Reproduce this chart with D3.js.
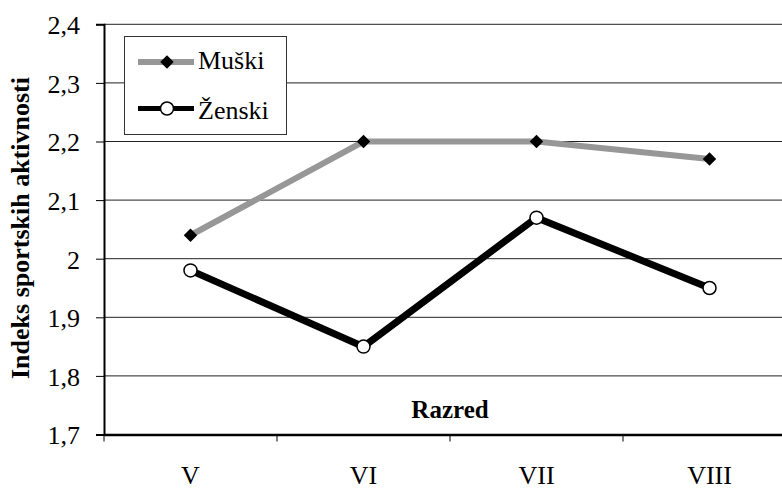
<!DOCTYPE html>
<html>
<head>
<meta charset="utf-8">
<script src="https://cdn.jsdelivr.net/npm/d3@7"></script>
<style>
  body { margin: 0; background: #fff; overflow: hidden; }
  svg { display: block; font-family: "Liberation Serif", "Times New Roman", serif; }
</style>
</head>
<body>
<svg id="chart" width="782" height="489"></svg>
<script>
// data
const razredi = ['V', 'VI', 'VII', 'VIII'];
const muski = [2.04, 2.2, 2.2, 2.17];
const zenski = [1.98, 1.85, 2.07, 1.95];
const yTicks = [1.7, 1.8, 1.9, 2.0, 2.1, 2.2, 2.3, 2.4];

// sizes (plot runs past the right edge, like the cropped original)
const pLeft = 104, pRight = 796, pTop = 24.3, pBottom = 434.5;
const serif = '"Liberation Serif", "Times New Roman", serif';

const svg = d3.select('#chart');

const x = d3.scaleBand().domain(razredi).range([pLeft, pRight]);
const y = d3.scaleLinear().domain([1.7, 2.4]).range([pBottom, pTop]);
const fmt = (d) => (d === 2 ? '2' : d3.format('.1f')(d).replace('.', ','));

// gridlines
svg.append('g')
  .selectAll('line')
  .data(yTicks.slice(1))
  .join('line')
  .attr('x1', pLeft).attr('x2', pRight)
  .attr('y1', (d) => y(d)).attr('y2', (d) => y(d))
  .attr('stroke', '#222').attr('stroke-width', 1);

// y axis
const yAxis = svg.append('g')
  .attr('transform', `translate(${pLeft},0)`)
  .call(d3.axisLeft(y).tickValues(yTicks).tickFormat(fmt).tickSize(8).tickPadding(16))
  .attr('font-family', serif).attr('font-size', 26);
yAxis.select('.domain').attr('stroke', '#000').attr('stroke-width', 2);
yAxis.selectAll('.tick line').attr('stroke', '#000');
yAxis.selectAll('text').attr('fill', '#000').attr('dy', '0.36em');

// x axis
const xAxis = svg.append('g')
  .attr('transform', `translate(0,${pBottom})`)
  .call(d3.axisBottom(x).tickSize(0).tickPadding(4))
  .attr('font-family', serif).attr('font-size', 26);
xAxis.select('.domain').attr('stroke', '#000').attr('stroke-width', 2.5);
xAxis.selectAll('text').attr('fill', '#000').attr('dy', null).attr('y', 49);
// ticks between categories
svg.append('g')
  .selectAll('line')
  .data(razredi)
  .join('line')
  .attr('x1', (d) => x(d)).attr('x2', (d) => x(d))
  .attr('y1', pBottom).attr('y2', pBottom + 7)
  .attr('stroke', '#000');

// axis titles
svg.append('text')
  .attr('transform', 'translate(29,228) rotate(-90)')
  .attr('text-anchor', 'middle')
  .attr('font-size', 26).attr('font-weight', 'bold')
  .text('Indeks sportskih aktivnosti');

svg.append('text')
  .attr('x', 450).attr('y', 418)
  .attr('text-anchor', 'middle')
  .attr('font-size', 25).attr('font-weight', 'bold')
  .text('Razred');

// lines
const cx = (d, i) => x(razredi[i]) + x.bandwidth() / 2;
const line = d3.line().x(cx).y((d) => y(d));

svg.append('path').datum(muski)
  .attr('d', line).attr('fill', 'none')
  .attr('stroke', '#979797').attr('stroke-width', 6);

svg.append('path').datum(zenski)
  .attr('d', line).attr('fill', 'none')
  .attr('stroke', '#000').attr('stroke-width', 7);

const diamond = d3.symbol().type(d3.symbolDiamond2).size(115);

svg.append('g')
  .selectAll('path')
  .data(muski)
  .join('path')
  .attr('d', diamond)
  .attr('transform', (d, i) => `translate(${cx(d, i)},${y(d)})`)
  .attr('fill', '#000');

svg.append('g')
  .selectAll('circle')
  .data(zenski)
  .join('circle')
  .attr('cx', cx).attr('cy', (d) => y(d))
  .attr('r', 6.5)
  .attr('fill', '#fff').attr('stroke', '#000').attr('stroke-width', 1.5);

// legend
const legend = svg.append('g');
legend.append('rect')
  .attr('x', 124.5).attr('y', 36.5).attr('width', 162).attr('height', 98)
  .attr('fill', '#fff').attr('stroke', '#333').attr('stroke-width', 1);

const items = [
  { name: 'Muški', color: '#979797', w: 6, ly: 62, ty: 69 },
  { name: 'Ženski', color: '#000', w: 5, ly: 108.5, ty: 119 },
];
items.forEach((it, i) => {
  legend.append('line')
    .attr('x1', 138).attr('x2', 194).attr('y1', it.ly).attr('y2', it.ly)
    .attr('stroke', it.color).attr('stroke-width', it.w);
  if (i === 0) {
    legend.append('path').attr('d', diamond)
      .attr('transform', `translate(167,${it.ly})`).attr('fill', '#000');
  } else {
    legend.append('circle').attr('cx', 167).attr('cy', it.ly).attr('r', 6.5)
      .attr('fill', '#fff').attr('stroke', '#000').attr('stroke-width', 1.5);
  }
  legend.append('text')
    .attr('x', 198).attr('y', it.ty)
    .attr('font-size', 26)
    .text(it.name);
});
</script>
</body>
</html>
